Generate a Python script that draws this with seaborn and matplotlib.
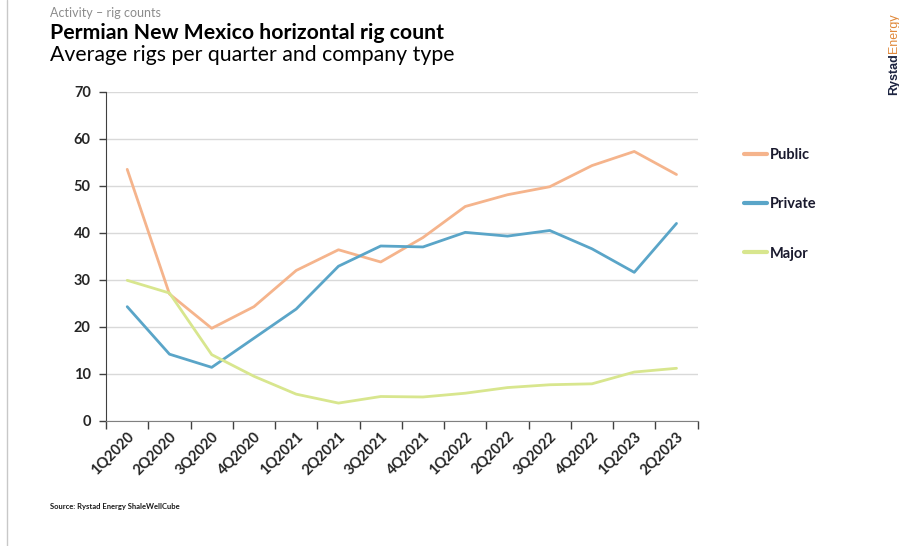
import pandas as pd
import numpy as np
import matplotlib.pyplot as plt
import seaborn as sns
from matplotlib.lines import Line2D

# 季度与三类公司钻机数
quarters = ['1Q2020', '2Q2020', '3Q2020', '4Q2020', '1Q2021', '2Q2021', '3Q2021',
            '4Q2021', '1Q2022', '2Q2022', '3Q2022', '4Q2022', '1Q2023', '2Q2023']
public = [53.5, 27.0, 19.7, 24.3, 32.0, 36.4, 33.8, 39.0, 45.6, 48.1, 49.8, 54.3, 57.3, 52.4]
private = [24.3, 14.2, 11.4, 17.6, 23.8, 32.9, 37.2, 37.0, 40.1, 39.3, 40.5, 36.6, 31.6, 42.0]
major = [29.9, 27.2, 14.1, 9.5, 5.7, 3.8, 5.2, 5.1, 5.9, 7.1, 7.7, 7.9, 10.4, 11.2]
series_names = ['Public', 'Private', 'Major']
colors = {'Public': '#F5B48C', 'Private': '#5AA5C8', 'Major': '#D8E68E'}

df = pd.DataFrame({'quarter': quarters * 3,
                   'x': list(range(len(quarters))) * 3,
                   'rigs': public + private + major,
                   'type': np.repeat(series_names, len(quarters))})

sns.set_style('white')
plt.rcParams['font.family'] = ['Lato', 'DejaVu Sans']

fig = plt.figure(figsize=(8.99, 5.46), dpi=100)
ax = fig.add_axes([0.118, 0.229, 0.658, 0.603])

sns.lineplot(data=df, x='x', y='rigs', hue='type', palette=colors,
             hue_order=series_names, linewidth=2, ax=ax, legend=False)

ax.set_xlim(-0.5, len(quarters) - 0.5)
ax.set_ylim(0, 70)
ax.set_yticks(range(0, 71, 10))
ax.yaxis.grid(True, color='#d9d9d9', linewidth=1)
ax.set_axisbelow(True)

# Excel 风格：刻度在类别边界，标签居中
ax.set_xticks(np.arange(-0.5, len(quarters), 1))
ax.set_xticklabels([])
ax.set_xticks(range(len(quarters)), minor=True)
ax.set_xticklabels(quarters, minor=True, rotation=45, ha='right', rotation_mode='anchor',
                   fontsize=10.5, color='#262626')
ax.tick_params(axis='x', which='major', direction='out', length=6, width=1, color='#404040', bottom=True)
ax.tick_params(axis='x', which='minor', length=0, pad=6)
ax.tick_params(axis='y', direction='out', length=5, width=1, color='#404040', left=True,
               labelsize=10.5, labelcolor='#262626', pad=6)
for lab in ax.get_yticklabels():
    lab.set_fontweight('bold')
for lab in ax.get_xticklabels(minor=True):
    lab.set_fontweight('bold')
ax.set_xlabel('')
ax.set_ylabel('')
for s in ['top', 'right']:
    ax.spines[s].set_visible(False)
ax.spines['left'].set_color('#404040')
ax.spines['bottom'].set_color('#808080')

handles = [Line2D([0], [0], color=colors[n], lw=3) for n in series_names]
leg = fig.legend(handles, series_names, loc='upper left', bbox_to_anchor=(0.813, 0.753),
                 frameon=False, handlelength=1.6, handletextpad=0.2, labelspacing=2.42,
                 prop={'size': 10.5, 'weight': 'bold'})
for t in leg.get_texts():
    t.set_color('#1a1a2e')

fig.text(50 / 899, 1 - 13 / 546, 'Activity \u2013 rig counts', fontsize=9, color='#8c8c8c', va='center')
fig.text(50 / 899, 1 - 33 / 546, 'Permian New Mexico horizontal rig count', fontsize=15.3,
         fontweight='bold', color='#000000', va='center')
fig.text(50 / 899, 1 - 55 / 546, 'Average rigs per quarter and company type', fontsize=15.3,
         color='#000000', va='center')
fig.text(50 / 899, 1 - 507 / 546, 'Source: Rystad Energy ShaleWellCube', fontsize=5.5,
         fontweight='bold', color='#1a1a1a', va='center')

# 右上角标识（竖排，Energy 接在 Rystad 之后）
logo = fig.text(894 / 899, 1 - 95 / 546, 'Rystad', rotation=90, fontsize=9, fontweight='bold',
                color='#1c2340', ha='center', va='bottom', family=['Liberation Sans'])
fig.add_artist(plt.Annotation('Energy', xy=(0.5, 1.0), xycoords=logo, rotation=90, fontsize=9,
                              color='#e0883a', ha='center', va='bottom',
                              family=['Liberation Sans'], annotation_clip=False))

# 幻灯片左侧边线
fig.add_artist(Line2D([7 / 899, 7 / 899], [0, 1], color='#c8c8c8', lw=1))

fig.savefig('out.png', dpi=100, facecolor='white')
